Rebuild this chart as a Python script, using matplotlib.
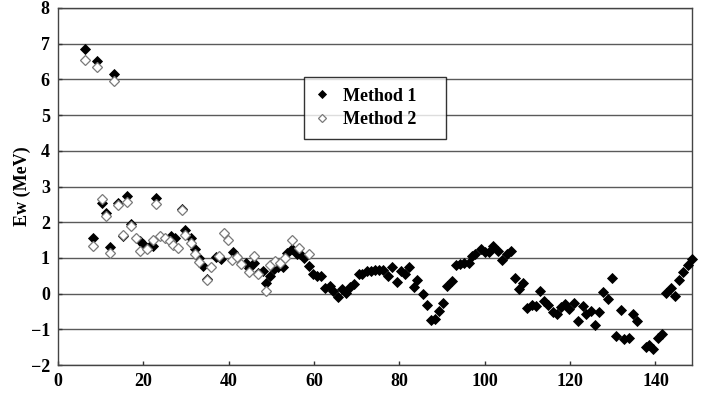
import matplotlib
matplotlib.use("Agg")
import matplotlib.pyplot as plt

plt.rcParams['font.family'] = ['Liberation Serif', 'DejaVu Serif']
plt.rcParams['font.weight'] = 'bold'

# Method 1 (filled diamonds)
x1 = [6.3, 9.2, 13.2,
      8.1, 10.2, 11.2, 12.2, 14.1, 15.2, 16.2, 17.0, 19.2, 20.0, 21.2, 22.2,
      23.0, 26.5, 27.5, 29.0, 29.8, 31.1, 32.1, 33.1, 34.0, 35.0, 37.0, 38.1,
      41.0, 41.8, 44.0, 44.8, 45.8, 46.9, 48.0, 48.7, 49.7, 50.6, 51.6, 52.6,
      53.6, 54.8, 55.9, 56.8, 57.6, 58.8, 59.7, 60.6, 61.6, 62.6, 63.6, 64.5,
      65.5, 66.5, 67.5, 68.4, 69.4, 70.4, 71.3, 72.3, 73.3, 74.3, 75.3, 76.2,
      77.3, 78.3, 79.4, 80.4, 81.3, 82.3, 83.3, 84.2, 85.4, 86.4, 87.3, 88.4,
      89.3, 90.3, 91.1, 92.3, 93.2, 94.2, 95.2, 96.2, 97.0, 97.8, 99.1, 100.1,
      101.1, 102.0, 103.2, 104.1, 105.1, 106.1, 107.1, 108.0, 109.0, 110.0,
      111.0, 112.0, 113.0, 113.9, 114.9, 115.9, 116.9, 117.9, 118.8, 119.8,
      120.8, 121.8, 122.9, 123.7, 124.8, 125.8, 126.8, 127.8, 128.8, 129.8,
      130.7, 131.9, 132.6, 133.7, 134.7, 135.6, 137.7, 138.6, 139.5, 140.7,
      141.5, 142.5, 143.6, 144.6, 145.6, 146.5, 147.6, 148.6]
y1 = [6.85, 6.52, 6.15,
      1.57, 2.53, 2.25, 1.31, 2.55, 1.60, 2.74, 1.95, 1.47, 1.39, 1.30, 1.33,
      2.69, 1.60, 1.55, 2.38, 1.78, 1.57, 1.24, 0.99, 0.78, 0.42, 1.02, 0.96,
      1.17, 1.04, 0.85, 0.72, 0.87, 0.58, 0.62, 0.31, 0.50, 0.70, 0.74, 0.74,
      1.15, 1.25, 1.12, 1.10, 0.99, 0.77, 0.56, 0.48, 0.48, 0.15, 0.22, 0.08,
      -0.09, 0.12, 0.03, 0.18, 0.27, 0.55, 0.55, 0.62, 0.64, 0.65, 0.65, 0.67,
      0.50, 0.74, 0.33, 0.64, 0.54, 0.75, 0.19, 0.38, -0.02, -0.31, -0.74, -0.71,
      -0.49, -0.25, 0.20, 0.34, 0.79, 0.82, 0.85, 0.86, 1.05, 1.10, 1.26, 1.17,
      1.17, 1.33, 1.19, 0.95, 1.12, 1.19, 0.43, 0.12, 0.31, -0.39,
      -0.33, -0.35, 0.07, -0.20, -0.33, -0.52, -0.56, -0.37, -0.30, -0.42,
      -0.26, -0.77, -0.35, -0.56, -0.48, -0.87, -0.52, 0.05, -0.16, 0.43,
      -1.20, -0.45, -1.28, -1.23, -0.58, -0.77, -1.50, -1.45, -1.56, -1.23,
      -1.12, 0.03, 0.15, -0.07, 0.37, 0.60, 0.79, 0.98]

# Method 2 (open diamonds)
x2 = [6.3, 9.2, 13.2,
      8.1, 10.2, 11.2, 12.2, 14.1, 15.2, 16.2, 17.0, 18.3, 19.2, 20.8, 22.2,
      23.0, 23.9, 25.1, 26.2, 27.0, 28.0, 29.0, 29.8, 31.1, 32.1, 33.1, 35.0,
      35.9, 37.8, 38.9, 39.8, 40.8, 41.9, 42.8, 44.8, 45.8, 46.9, 48.7, 49.7,
      50.9, 51.9, 53.2, 54.8, 56.5, 58.7]
y2 = [6.54, 6.34, 5.96,
      1.34, 2.65, 2.17, 1.13, 2.47, 1.64, 2.56, 1.90, 1.55, 1.20, 1.25, 1.50,
      2.52, 1.61, 1.55, 1.47, 1.35, 1.29, 2.33, 1.64, 1.41, 1.10, 0.89, 0.37,
      0.75, 1.06, 1.70, 1.50, 0.95, 1.03, 0.84, 0.60, 1.04, 0.55, 0.07, 0.80,
      0.92, 0.85, 1.00, 1.50, 1.27, 1.10]

xticks = [0, 20, 40, 60, 80, 100, 120, 140]
yticks = [-2, -1, 0, 1, 2, 3, 4, 5, 6, 7, 8]

fig = plt.figure(figsize=(7.18, 4.0), dpi=100)
ax = fig.add_axes([0.081, 0.0875, 0.883, 0.8925])

for yv in yticks:
    ax.axhline(yv, color='#5a5a5a', lw=1.0, zorder=1)

ax.plot(x1, y1, linestyle='none', marker='D', ms=4.6, color='black',
        mec='black', mew=0.6, label='Method 1', zorder=3, clip_on=False)
ax.plot(x2, y2, linestyle='none', marker='D', ms=4.8, mfc='white',
        mec='#7a7a7a', mew=0.9, label='Method 2', zorder=4, clip_on=False)

ax.set_xlim(0, 148.6)
ax.set_ylim(-2, 8)
ax.set_xticks(xticks)
ax.set_yticks(yticks)
ax.tick_params(axis='both', direction='in', length=3, width=1, labelsize=13,
               pad=6, color='#333333')
for lab in ax.get_xticklabels() + ax.get_yticklabels():
    lab.set_fontweight('bold')
for s in ax.spines.values():
    s.set_color('#444444')
    s.set_linewidth(1.0)

ax.set_ylabel('Ew (MeV)', fontsize=13, fontweight='bold', labelpad=0)

leg = ax.legend(loc='upper left', bbox_to_anchor=(0.388, 0.6, 0.224, 0.207),
                mode='expand', frameon=True, fancybox=False, edgecolor='black',
                prop={'size': 13, 'weight': 'bold'}, handletextpad=0.75,
                borderpad=0.6, labelspacing=0.35, handlelength=0.8,
                borderaxespad=0, markerscale=0.85)
leg.get_frame().set_linewidth(1.0)
leg.set_zorder(5)

fig.savefig('out.png', dpi=100)
